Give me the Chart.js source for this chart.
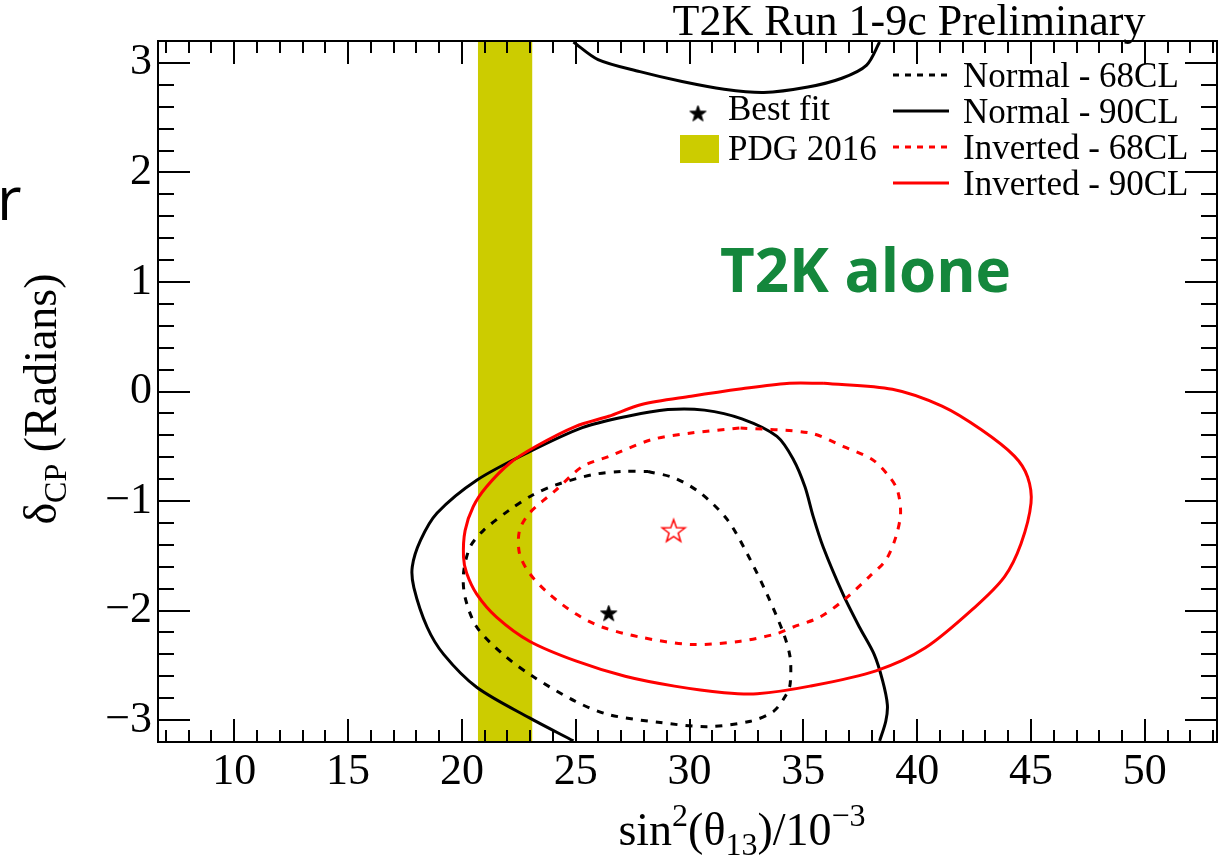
<!DOCTYPE html>
<html>
<head>
<meta charset="utf-8">
<script src="https://cdn.jsdelivr.net/npm/chart.js@4.4.1/dist/chart.umd.min.js"></script>
<style>
  html, body { margin: 0; padding: 0; background: #fff; overflow: hidden; }
  #wrap { position: relative; width: 1230px; height: 864px; }
</style>
</head>
<body>
<div id="wrap"><canvas id="c" width="1230" height="864"></canvas></div>
<script>
// axis ranges + tick labels
const xRange = [6.65, 53.17];
const yRange = [-3.2, 3.2];
const xTicks = [10, 15, 20, 25, 30, 35, 40, 45, 50];
const yTicks = [-3, -2, -1, 0, 1, 2, 3];

// PDG 2016 sin^2(theta13) band (x 10^-3)
const pdgBand = [20.7, 23.1];

// Normal hierarchy 90% CL: main arc + the piece that wraps through +pi
const normal90 = [
  [24.9, -3.19], [22.97, -2.98], [20.65, -2.7], [19.2, -2.4], [18.47, -2.15], [17.89, -1.79],
  [17.82, -1.6], [18.18, -1.36], [18.91, -1.11], [20.65, -0.81], [22.97, -0.55], [25.29, -0.33],
  [27.17, -0.23], [29.05, -0.165], [30.65, -0.17], [32.3, -0.25], [33.84, -0.41], [34.56, -0.62],
  [35.07, -0.87], [35.43, -1.14], [35.87, -1.42], [36.74, -1.85], [37.46, -2.15], [38.11, -2.4],
  [38.48, -2.64], [38.69, -2.86], [38.62, -3.01], [38.35, -3.19],
];
const normal90Top = [
  [24.9, 3.19], [25.98, 3.03], [27.82, 2.92], [29.67, 2.83], [31.52, 2.76], [33.26, 2.73],
  [35.2, 2.78], [36.69, 2.86], [37.78, 2.98], [38.35, 3.19],
];
// Normal hierarchy 68% CL
const normal68 = [
  [28.18, -0.73], [29.34, -0.79], [30.5, -0.93], [31.66, -1.17], [32.53, -1.48], [33.4, -1.85],
  [34.13, -2.21], [34.42, -2.43], [34.42, -2.67], [34.27, -2.76], [33.69, -2.92], [32.68, -3.01],
  [30.79, -3.06], [28.62, -3.02], [26.45, -2.95], [25.0, -2.83], [23.11, -2.6], [21.81, -2.4],
  [20.65, -2.15], [20.14, -1.88], [20.07, -1.66], [20.36, -1.42], [20.94, -1.27], [22.1, -1.08],
  [23.11, -0.945], [24.13, -0.853], [25.72, -0.76], [27.0, -0.73], [28.18, -0.73],
];
// Inverted hierarchy 90% CL
const inverted90 = [
  [35.9, 0.075], [38.91, 0.02], [41.09, -0.134], [42.82, -0.35], [44.27, -0.59], [44.85, -0.78],
  [45.0, -1.02], [44.56, -1.39], [43.84, -1.69], [42.53, -1.97], [40.36, -2.34], [38.19, -2.55],
  [35.29, -2.69], [32.97, -2.76], [31.52, -2.75], [29.34, -2.69], [27.17, -2.6], [25.0, -2.46],
  [22.97, -2.28], [21.52, -2.06], [20.65, -1.85], [20.21, -1.66], [20.07, -1.51], [20.14, -1.27],
  [20.5, -1.05], [21.08, -0.87], [22.1, -0.655], [23.26, -0.5], [25.0, -0.318], [26.45, -0.226],
  [27.89, -0.119], [30.07, -0.043], [32.3, 0.025], [34.27, 0.074], [35.9, 0.075],
];
// Inverted hierarchy 68% CL
const inverted68 = [
  [32.24, -0.333], [35.29, -0.379], [36.74, -0.5], [38.04, -0.623], [38.77, -0.776], [39.13, -0.9],
  [39.27, -1.11], [39.06, -1.33], [38.62, -1.54], [37.9, -1.69], [36.74, -1.91], [35.72, -2.06],
  [34.56, -2.15], [33.84, -2.21], [32.24, -2.28], [30.07, -2.31], [27.89, -2.245], [26.15, -2.15],
  [25.0, -2.03], [23.84, -1.85], [22.97, -1.66], [22.53, -1.48], [22.53, -1.27], [22.97, -1.11],
  [24.13, -0.9], [25.29, -0.685], [26.45, -0.593], [28.33, -0.44], [30.07, -0.379], [32.24, -0.333],
];
// best fit points
const bestFitNormal = [26.45, -2.02];
const bestFitInverted = [29.3, -1.27];

const SERIF = '"Liberation Serif", "Times New Roman", serif';
const RED = '#ff0000';
const YELLOW = '#cccc00';

const pts = (arr) => arr.map(([x, y]) => ({ x, y }));

// ROOT-ish star markers
function starCanvas(size, fill, stroke, lw) {
  const c = document.createElement('canvas');
  c.width = c.height = size + 4;
  const g = c.getContext('2d');
  const R = size / 2, r = R * 0.4, cx = c.width / 2, cy = c.height / 2 + 1;
  g.beginPath();
  for (let i = 0; i < 10; i++) {
    const rad = i % 2 ? r : R;
    const a = -Math.PI / 2 + i * Math.PI / 5;
    g.lineTo(cx + rad * Math.cos(a), cy + rad * Math.sin(a));
  }
  g.closePath();
  if (fill) { g.fillStyle = fill; g.fill(); }
  if (stroke) { g.strokeStyle = stroke; g.lineWidth = lw; g.stroke(); }
  return c;
}
const blackStar = starCanvas(17, '#000', '#000', 1);
const redStar = starCanvas(24, null, RED, 1.5);

function contour(data, color, dashed, order) {
  return {
    data: pts(data), showLine: true, borderColor: color, borderWidth: 3,
    borderDash: dashed ? [7, 8] : [], pointRadius: 0, tension: 0.3, fill: false, order,
  };
}

function richText(ctx, parts, x, y, align) {
  let total = 0;
  parts.forEach((p) => { ctx.font = `${p.size}px ${SERIF}`; p.w = ctx.measureText(p.t).width; total += p.w; });
  let cx = align === 'center' ? x - total / 2 : x;
  parts.forEach((p) => {
    ctx.font = `${p.size}px ${SERIF}`;
    ctx.fillText(p.t, cx, y + (p.dy || 0));
    cx += p.w;
  });
}

// frame with inward ticks on all four sides
const rootFrame = {
  id: 'rootFrame',
  afterDatasetsDraw(chart) {
    const { ctx, chartArea: a, scales: { x, y } } = chart;
    ctx.save();
    ctx.strokeStyle = '#000';
    ctx.lineWidth = 2;
    ctx.beginPath();
    for (let v = Math.ceil(xRange[0]); v <= xRange[1]; v++) {
      const px = Math.round(x.getPixelForValue(v));
      const len = v % 5 === 0 ? 23 : 12;
      ctx.moveTo(px, a.bottom); ctx.lineTo(px, a.bottom - len);
      ctx.moveTo(px, a.top); ctx.lineTo(px, a.top + len);
    }
    for (let i = -16; i <= 16; i++) {
      const py = Math.round(y.getPixelForValue(i / 5));
      const len = i % 5 === 0 ? 32 : 16;
      ctx.moveTo(a.left, py); ctx.lineTo(a.left + len, py);
      ctx.moveTo(a.right, py); ctx.lineTo(a.right - len, py);
    }
    ctx.stroke();
    ctx.strokeRect(a.left, a.top, a.right - a.left, a.bottom - a.top);
    ctx.restore();
  },
};

// titles, legend, labels
const decorations = {
  id: 'decorations',
  afterDraw(chart) {
    const { ctx } = chart;
    ctx.save();
    ctx.fillStyle = '#000';
    ctx.textBaseline = 'alphabetic';

    ctx.textAlign = 'center';
    ctx.font = `44px ${SERIF}`;
    ctx.fillText('T2K Run 1-9c Preliminary', 909, 35);

    ctx.textAlign = 'left';
    richText(ctx, [
      { t: 'sin', size: 46 }, { t: '2', size: 32, dy: -19 }, { t: '(\u03b8', size: 46 },
      { t: '13', size: 32, dy: 10 }, { t: ')/10', size: 46 }, { t: '\u22123', size: 32, dy: -19 },
    ], 742, 845, 'center');

    ctx.save();
    ctx.translate(56, 399);
    ctx.rotate(-Math.PI / 2);
    richText(ctx, [
      { t: '\u03b4', size: 46 }, { t: 'CP', size: 32, dy: 10 }, { t: ' (Radians)', size: 46 },
    ], 0, 0, 'center');
    ctx.restore();

    // legend, left block
    ctx.drawImage(blackStar, 698 - blackStar.width / 2, 113 - blackStar.height / 2);
    ctx.fillStyle = YELLOW;
    ctx.fillRect(680, 135, 39, 28);
    ctx.fillStyle = '#000';
    ctx.font = `35px ${SERIF}`;
    ctx.fillText('Best fit', 728, 120);
    ctx.fillText('PDG 2016', 728, 160);

    // legend, right block
    const rows = [
      ['Normal - 68CL', '#000', true], ['Normal - 90CL', '#000', false],
      ['Inverted - 68CL', RED, true], ['Inverted - 90CL', RED, false],
    ];
    rows.forEach(([label, color, dashed], i) => {
      const ly = 75 + i * 36;
      ctx.strokeStyle = color;
      ctx.lineWidth = 3;
      ctx.setLineDash(dashed ? [6, 6] : []);
      ctx.beginPath(); ctx.moveTo(893, ly); ctx.lineTo(949, ly); ctx.stroke();
      ctx.setLineDash([]);
      ctx.fillStyle = '#000';
      ctx.fillText(label, 963, ly + 12);
    });

    ctx.fillStyle = '#14873c';
    ctx.font = 'bold 60px "Open Sans", sans-serif';
    ctx.fillText('T2K alone', 720, 292);

    ctx.fillStyle = '#000';
    ctx.font = '60px "Open Sans", sans-serif';
    ctx.fillText('r', -3, 220);
    ctx.restore();
  },
};

const minusFmt = (v) => (v < 0 ? '\u2212' + Math.abs(v) : String(v));

new Chart(document.getElementById('c'), {
  type: 'scatter',
  data: {
    datasets: [
      {
        label: 'PDG 2016', data: pdgBand.map((x) => ({ x, y: yRange[1] })), showLine: true,
        borderColor: YELLOW, borderWidth: 1, backgroundColor: YELLOW, pointRadius: 0,
        fill: 'start', order: 10,
      },
      contour(normal90, '#000', false, 4),
      contour(normal90Top, '#000', false, 4),
      contour(normal68, '#000', true, 3),
      contour(inverted90, RED, false, 2),
      contour(inverted68, RED, true, 1),
      { data: pts([bestFitNormal]), pointStyle: blackStar, pointRadius: 8, order: 0 },
      { data: pts([bestFitInverted]), pointStyle: redStar, pointRadius: 12, order: 0 },
    ],
  },
  options: {
    responsive: false,
    animation: false,
    layout: { padding: { top: 41, right: 2, left: 0, bottom: 0 } },
    plugins: { legend: { display: false }, tooltip: { enabled: false } },
    scales: {
      x: {
        type: 'linear', min: xRange[0], max: xRange[1],
        grid: { display: false, drawTicks: false, tickLength: 0 }, border: { display: false },
        afterBuildTicks: (s) => { s.ticks = xTicks.map((v) => ({ value: v })); },
        afterFit: (s) => { s.height = 122; },
        ticks: { color: '#000', font: { family: SERIF, size: 44 }, padding: 4, maxRotation: 0, autoSkip: false, callback: minusFmt },
      },
      y: {
        type: 'linear', min: yRange[0], max: yRange[1],
        grid: { display: false, drawTicks: false, tickLength: 0 }, border: { display: false },
        afterBuildTicks: (s) => { s.ticks = yTicks.map((v) => ({ value: v })); },
        afterFit: (s) => { s.width = 158; },
        ticks: { color: '#000', font: { family: SERIF, size: 44 }, padding: 6, autoSkip: false, callback: minusFmt },
      },
    },
  },
  plugins: [rootFrame, decorations],
});
</script>
</body>
</html>
